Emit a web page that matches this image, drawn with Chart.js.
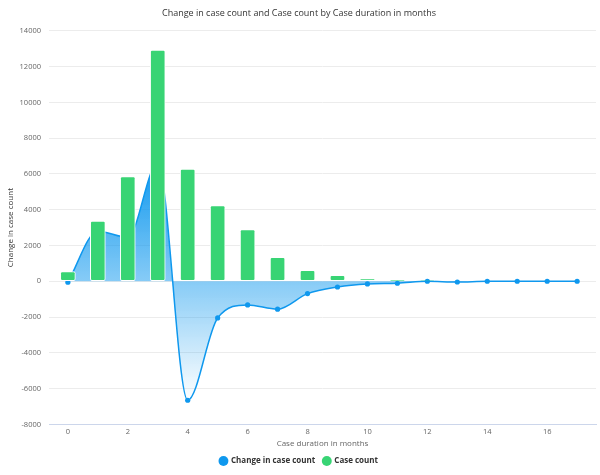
<!DOCTYPE html>
<html>
<head>
<meta charset="utf-8">
<script src="https://cdn.jsdelivr.net/npm/chart.js@4"></script>
<style>
  html, body { margin: 0; padding: 0; background: #ffffff; }
  #wrap { width: 600px; height: 475px; position: relative; }
</style>
</head>
<body>
<div id="wrap"><canvas id="c"></canvas></div>
<script>
const months = [0, 1, 2, 3, 4, 5, 6, 7, 8, 9, 10, 11, 12, 13, 14, 15, 16, 17];
const changeInCaseCount = [-50, 2800, 2450, 6600, -6650, -2050, -1320, -1560, -690, -320, -150, -110, 0, -40, 0, 0, 0, 0];
const caseCount = [540, 3370, 5850, 12920, 6270, 4230, 2890, 1340, 615, 330, 150, 40, 30, 0, 0, 0, 0, 0];
const xTickValues = [0, 2, 4, 6, 8, 10, 12, 14, 16];
const yTickMin = -8000, yTickMax = 14000, yTickStep = 2000;

const titleText = 'Change in case count and Case count by Case duration in months';
const seriesNames = ['Change in case count', 'Case count'];
const xTitle = 'Case duration in months';
const yTitle = 'Change in case count';

const LINE = '#0f98ee';
const BAR = '#38d474';
const FONT = "'Open Sans', 'DejaVu Sans', sans-serif";

function areaGradient(ctx) {
  const chart = ctx.chart;
  const area = chart.chartArea;
  if (!area) return 'rgba(15,152,238,0.5)';
  const y = chart.scales.y;
  const top = y.getPixelForValue(Math.max(...changeInCaseCount));
  const bot = y.getPixelForValue(Math.min(...changeInCaseCount));
  const g = chart.ctx.createLinearGradient(0, top, 0, bot);
  g.addColorStop(0, 'rgba(15,152,238,1)');
  g.addColorStop(1, 'rgba(15,152,238,0)');
  return g;
}

new Chart(document.getElementById('c'), {
  data: {
    datasets: [
      {
        type: 'line',
        label: seriesNames[0],
        data: months.map((m, i) => ({ x: m, y: changeInCaseCount[i] })),
        borderColor: LINE,
        borderWidth: 1.5,
        backgroundColor: areaGradient,
        fill: 'origin',
        cubicInterpolationMode: 'monotone',
        pointRadius: 2.6,
        pointBackgroundColor: LINE,
        pointBorderWidth: 0,
        pointStyle: 'circle',
        order: 2
      },
      {
        type: 'bar',
        label: seriesNames[1],
        data: months.map((m, i) => ({ x: m, y: caseCount[i] })),
        backgroundColor: BAR,
        borderColor: '#ffffff',
        borderWidth: 1,
        borderRadius: 2,
        borderSkipped: false,
        barThickness: 15,
        pointStyle: 'circle',
        order: 1
      }
    ]
  },
  options: {
    responsive: true,
    maintainAspectRatio: false,
    animation: false,
    layout: { padding: { left: 0, right: 2, top: 0, bottom: 0 } },
    plugins: {
      title: {
        display: true,
        text: titleText,
        color: '#333333',
        font: { family: FONT, size: 9, weight: 'normal' },
        padding: { top: 8, bottom: 12 }
      },
      legend: {
        display: true,
        position: 'bottom',
        labels: {
          usePointStyle: true,
          pointStyle: 'circle',
          boxWidth: 7,
          boxHeight: 7,
          padding: 8,
          color: '#333333',
          font: { family: FONT, size: 8, weight: 'bold' },
          generateLabels(chart) {
            return chart.data.datasets.map((ds, i) => ({
              text: ds.label,
              fillStyle: i === 0 ? LINE : BAR,
              strokeStyle: i === 0 ? LINE : BAR,
              lineWidth: 0,
              pointStyle: 'circle',
              datasetIndex: i,
              hidden: false,
              fontColor: '#333333'
            }));
          }
        }
      },
      tooltip: { enabled: false }
    },
    scales: {
      x: {
        type: 'linear',
        offset: false,
        min: -0.63,
        max: 17.63,
        afterBuildTicks(scale) { scale.ticks = xTickValues.map(v => ({ value: v })); },
        ticks: {
          color: '#666666',
          font: { family: FONT, size: 7.5 },
          padding: 3,
          callback: v => String(v)
        },
        grid: { display: false, drawTicks: false },
        border: { display: true, color: '#ccd6eb', width: 1 },
        title: {
          display: true,
          text: xTitle,
          color: '#666666',
          font: { family: FONT, size: 8 },
          padding: { top: 0, bottom: 0 }
        }
      },
      y: {
        type: 'linear',
        min: yTickMin,
        max: yTickMax,
        ticks: {
          stepSize: yTickStep,
          color: '#666666',
          font: { family: FONT, size: 7.5 },
          padding: 8,
          callback: v => String(v)
        },
        grid: { color: '#ececec', lineWidth: 1, drawTicks: false },
        border: { display: false },
        title: {
          display: true,
          text: yTitle,
          color: '#333333',
          font: { family: FONT, size: 8 },
          padding: { top: 6, bottom: 2 }
        },
        afterFit(scale) { scale.width = 49; }
      }
    }
  }
});
</script>
</body>
</html>
